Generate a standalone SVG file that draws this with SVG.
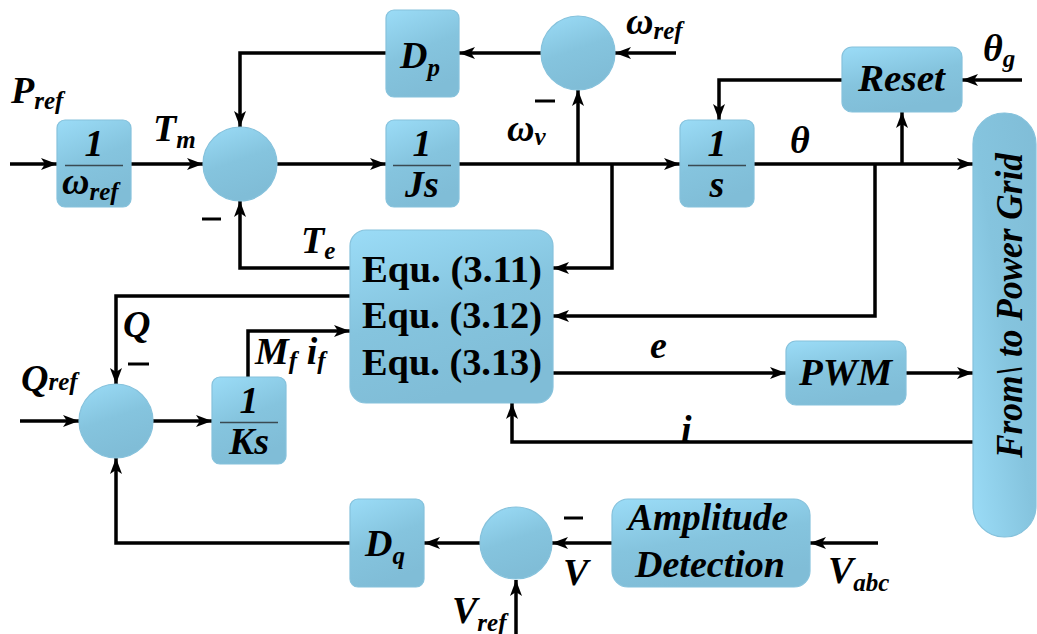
<svg xmlns="http://www.w3.org/2000/svg" width="1037" height="634" viewBox="0 0 1037 634">
  <style>
    .blk { fill: url(#blue); stroke: #86c2dc; stroke-width: 1.2; }
    .wire { fill: none; stroke: #000; stroke-width: 3.5; }
    .arr { marker-end: url(#head); }
    .frac { stroke: #3a4a52; stroke-width: 1.3; }
    .minus { stroke: #000; stroke-width: 3; }
    text { font-family: 'Liberation Serif', 'Times New Roman', serif; fill: #000; }
    .lbl { font-weight: bold; font-style: italic; font-size: 38px; }
    .sub { font-size: 25px; }
    .eq { font-weight: bold; font-size: 38px; }
  </style>
  <defs>
    <linearGradient id="blue" x1="0" y1="0" x2="0.35" y2="1">
      <stop offset="0" stop-color="#9bdcf7"/>
      <stop offset="0.55" stop-color="#85c4de"/>
      <stop offset="1" stop-color="#80bdd7"/>
    </linearGradient>
    <linearGradient id="gridFill" x1="0" y1="1" x2="1" y2="0">
      <stop offset="0" stop-color="#9bdcf7"/>
      <stop offset="0.5" stop-color="#85c4de"/>
      <stop offset="1" stop-color="#80bdd7"/>
    </linearGradient>
    <marker id="head" viewBox="0 0 16 12" refX="16" refY="6" markerWidth="16" markerHeight="12" markerUnits="userSpaceOnUse" orient="auto">
      <path d="M0,0 L16,6 L0,12 L4,6 z" fill="#000"/>
    </marker>
  </defs>

  <!-- signal wires -->
  <g id="connectors">
    <path class="wire arr" d="M10,164 H57"/>
    <path class="wire arr" d="M131,164 H203"/>
    <path class="wire arr" d="M277,164 H386"/>
    <path class="wire arr" d="M459,164 H680"/>
    <path class="wire arr" d="M578,164 V90"/>
    <path class="wire arr" d="M676,53 H615"/>
    <path class="wire arr" d="M541,53 H459"/>
    <path class="wire arr" d="M386,53 H240 V127"/>
    <path class="wire arr" d="M612,164 V268 H553"/>
    <path class="wire arr" d="M754,164 H973"/>
    <path class="wire arr" d="M902,164 V112"/>
    <path class="wire arr" d="M1022,80 H962"/>
    <path class="wire arr" d="M842,80 H719 V120"/>
    <path class="wire arr" d="M875,164 V316 H553"/>
    <path class="wire arr" d="M350,268 H240 V201"/>
    <path class="wire arr" d="M350,296 H116 V384"/>
    <path class="wire arr" d="M20,421 H79"/>
    <path class="wire arr" d="M153,421 H212"/>
    <path class="wire arr" d="M248,377 V331 H350"/>
    <path class="wire arr" d="M553,373 H786"/>
    <path class="wire arr" d="M906,373 H973"/>
    <path class="wire arr" d="M973,442 H512 V403"/>
    <path class="wire arr" d="M350,543 H116 V458"/>
    <path class="wire arr" d="M480,543 H424"/>
    <path class="wire arr" d="M612,543 H552"/>
    <path class="wire arr" d="M878,543 H810"/>
    <path class="wire arr" d="M516,634 V580"/>
  </g>

  <!-- gain 1/omega_ref -->
  <g id="gain-wref">
    <rect class="blk" x="57" y="120" width="74" height="87" rx="8"/>
    <text class="lbl" x="94" y="156" text-anchor="middle">1</text>
    <line class="frac" x1="65" y1="165.5" x2="123" y2="165.5"/>
    <text class="lbl" x="62" y="194" font-size="36">ω<tspan class="sub" dy="6">ref</tspan></text>
  </g>

  <!-- torque summing junction -->
  <g id="sum-torque">
    <circle class="blk" cx="240" cy="164" r="37"/>
    <line class="minus" x1="202" y1="219" x2="221" y2="219"/>
  </g>

  <!-- damping D_p -->
  <g id="gain-dp">
    <rect class="blk" x="386" y="10" width="73" height="87" rx="8"/>
    <text class="lbl" x="400" y="68">D<tspan class="sub" dy="8">p</tspan></text>
  </g>

  <!-- speed error junction -->
  <g id="sum-speed">
    <circle class="blk" cx="578" cy="53" r="37"/>
    <line class="minus" x1="535" y1="101" x2="555" y2="101"/>
  </g>

  <!-- inertia 1/Js -->
  <g id="inertia">
    <rect class="blk" x="386" y="120" width="73" height="87" rx="8"/>
    <text class="lbl" x="422" y="156" text-anchor="middle">1</text>
    <line class="frac" x1="393" y1="165.5" x2="451" y2="165.5"/>
    <text class="lbl" x="422" y="197" text-anchor="middle" font-size="36">Js</text>
  </g>

  <!-- integrator 1/s -->
  <g id="integrator">
    <rect class="blk" x="680" y="120" width="74" height="87" rx="8"/>
    <text class="lbl" x="717" y="156" text-anchor="middle">1</text>
    <line class="frac" x1="688" y1="165.5" x2="746" y2="165.5"/>
    <text class="lbl" x="717" y="197" text-anchor="middle" font-size="36">s</text>
  </g>

  <!-- phase reset -->
  <g id="reset">
    <rect class="blk" x="842" y="47" width="120" height="65" rx="10"/>
    <text class="lbl" x="858" y="91" textLength="87" lengthAdjust="spacingAndGlyphs">Reset</text>
  </g>

  <!-- grid interface -->
  <g id="grid">
    <rect x="973" y="113" width="63" height="424" rx="31" fill="url(#gridFill)" stroke="#86c2dc" stroke-width="1.2"/>
    <text class="lbl" x="-458" y="0" font-size="36" textLength="305" lengthAdjust="spacingAndGlyphs" transform="translate(1022,0) rotate(-90)">From\ to Power Grid</text>
  </g>

  <!-- equation block -->
  <g id="equations">
    <rect class="blk" x="350" y="230" width="203" height="173" rx="16"/>
    <text class="eq" x="362" y="282" textLength="180" lengthAdjust="spacingAndGlyphs">Equ. (3.11)</text>
    <text class="eq" x="362" y="328" textLength="180" lengthAdjust="spacingAndGlyphs">Equ. (3.12)</text>
    <text class="eq" x="362" y="375" textLength="180" lengthAdjust="spacingAndGlyphs">Equ. (3.13)</text>
  </g>

  <!-- reactive power junction -->
  <g id="sum-reactive">
    <circle class="blk" cx="116" cy="421" r="37"/>
    <line class="minus" x1="128" y1="364" x2="149" y2="364"/>
  </g>

  <!-- 1/Ks -->
  <g id="gain-ks">
    <rect class="blk" x="212" y="377" width="74" height="87" rx="8"/>
    <text class="lbl" x="249" y="413" text-anchor="middle">1</text>
    <line class="frac" x1="220" y1="422.5" x2="278" y2="422.5"/>
    <text class="lbl" x="249" y="454" text-anchor="middle" font-size="36">Ks</text>
  </g>

  <!-- PWM -->
  <g id="pwm">
    <rect class="blk" x="786" y="341" width="120" height="64" rx="10"/>
    <text class="lbl" x="799" y="385" textLength="93" lengthAdjust="spacingAndGlyphs">PWM</text>
  </g>

  <!-- D_q -->
  <g id="gain-dq">
    <rect class="blk" x="350" y="499" width="74" height="88" rx="8"/>
    <text class="lbl" x="365" y="556">D<tspan class="sub" dy="8">q</tspan></text>
  </g>

  <!-- voltage junction -->
  <g id="sum-voltage">
    <circle class="blk" cx="516" cy="543" r="36"/>
    <line class="minus" x1="564" y1="518" x2="583" y2="518"/>
  </g>

  <!-- amplitude detection -->
  <g id="amplitude">
    <rect class="blk" x="612" y="499" width="198" height="88" rx="16"/>
    <text class="lbl" x="628" y="530" textLength="160" lengthAdjust="spacingAndGlyphs">Amplitude</text>
    <text class="lbl" x="635" y="577" textLength="150" lengthAdjust="spacingAndGlyphs">Detection</text>
  </g>

  <!-- signal labels -->
  <g id="labels">
    <text class="lbl" x="11" y="103">P<tspan class="sub" dy="6">ref</tspan></text>
    <text class="lbl" x="153" y="141">T<tspan class="sub" dy="7">m</tspan></text>
    <text class="lbl" x="626" y="34">ω<tspan class="sub" dy="5">ref</tspan></text>
    <text class="lbl" x="507" y="141">ω<tspan class="sub" dy="4">v</tspan></text>
    <text class="lbl" x="790" y="153">θ</text>
    <text class="lbl" x="983" y="61">θ<tspan class="sub" dy="6">g</tspan></text>
    <text class="lbl" x="301" y="253">T<tspan class="sub" dy="6">e</tspan></text>
    <text class="lbl" x="123" y="337">Q</text>
    <text class="lbl" x="21" y="391">Q<tspan class="sub" dy="-1">ref</tspan></text>
    <text class="lbl" x="255" y="364">M<tspan class="sub" dy="5">f</tspan><tspan dy="-5"> i</tspan><tspan class="sub" dy="5">f</tspan></text>
    <text class="lbl" x="650" y="358">e</text>
    <text class="lbl" x="681" y="442">i</text>
    <text class="lbl" x="563" y="585">V</text>
    <text class="lbl" x="828" y="583">V<tspan class="sub" dy="8">abc</tspan></text>
    <text class="lbl" x="452" y="623">V<tspan class="sub" dy="8">ref</tspan></text>
  </g>
</svg>
